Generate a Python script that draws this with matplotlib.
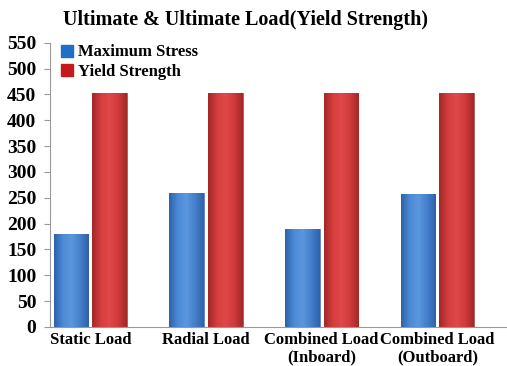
import matplotlib
matplotlib.use("Agg")
import matplotlib.pyplot as plt
from matplotlib.colors import LinearSegmentedColormap
from matplotlib.patches import Patch
import numpy as np

categories = ["Static Load", "Radial Load", "Combined Load\n(Inboard)", "Combined Load\n(Outboard)"]
max_stress = [180, 260, 190, 257]
yield_strength = [452, 452, 452, 452]
yticks = list(range(0, 551, 50))

plt.rcParams["font.family"] = ["Liberation Serif", "DejaVu Serif"]
plt.rcParams["font.weight"] = "bold"

# cylinder-like shading of the bars
blue_cm = LinearSegmentedColormap.from_list("b", ["#2f62ab", "#4b8ad5", "#5b97dd", "#4480cb", "#2f62ab"])
red_cm = LinearSegmentedColormap.from_list("r", ["#a32828", "#d63d3d", "#e04949", "#d13a3a", "#a32828"])

fig = plt.figure(figsize=(5.07, 3.66), dpi=100)
ax = fig.add_axes([0.099, 0.107, 0.905, 0.776])

x = np.arange(len(categories))
w = 0.30
grad = np.linspace(0, 1, 64).reshape(1, -1)

def shaded(bars, cmap):
    for b in bars:
        b.set_facecolor("none")
        x0, y0 = b.get_x(), b.get_y()
        im = ax.imshow(grad, cmap=cmap, aspect="auto", interpolation="bilinear",
                       extent=[x0, x0 + b.get_width(), y0, y0 + b.get_height()], zorder=1.5)
        im.set_clip_path(b)

b1 = ax.bar(x - w/2 - 0.017, max_stress, w, edgecolor="#2a5a9c", lw=0.5)
b2 = ax.bar(x + w/2 + 0.017, yield_strength, w, edgecolor="#8e2020", lw=0.5)
shaded(b1, blue_cm)
shaded(b2, red_cm)

ax.set_xlim(-0.347, 3.62)
ax.set_ylim(0, 550)
ax.set_yticks(yticks)
ax.set_xticks(x)
ax.set_xticklabels(categories, fontsize=12, fontweight="bold", linespacing=1.1)
ax.tick_params(axis="y", labelsize=14, length=4, color="#999999", pad=6)
ax.tick_params(axis="x", length=0, pad=4)
for t in ax.get_yticklabels():
    t.set_fontweight("bold")
for s in ["top", "right"]:
    ax.spines[s].set_visible(False)
ax.spines["left"].set_color("#999999")
ax.spines["bottom"].set_color("#999999")

ax.legend([Patch(color="#1f6fc4"), Patch(color="#c41a1a")], ["Maximum Stress", "Yield Strength"],
          loc="upper left", bbox_to_anchor=(-0.01, 1.047), frameon=False,
          handlelength=0.75, handleheight=0.75, handletextpad=0.3, labelspacing=0.2,
          prop={"weight": "bold", "size": 12})

fig.text(0.485, 0.945, "Ultimate & Ultimate Load(Yield Strength)", ha="center", va="center",
         fontsize=14.5, fontweight="bold")

fig.savefig("out.png", dpi=100)
